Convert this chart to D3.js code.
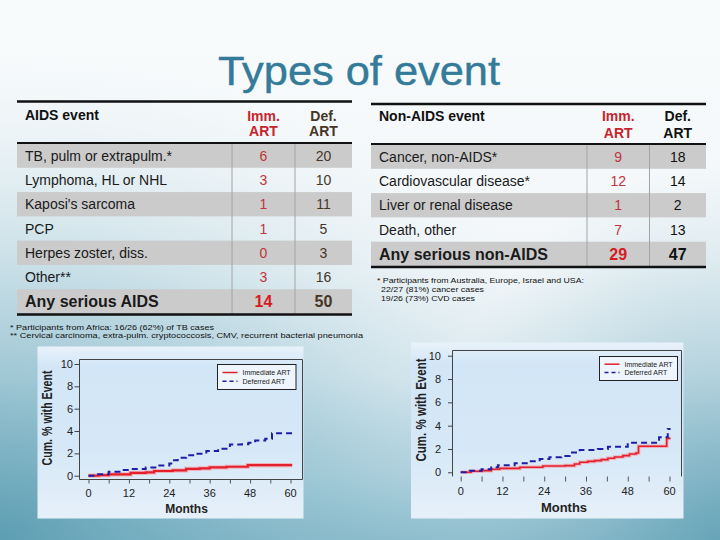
<!DOCTYPE html>
<html><head><meta charset="utf-8">
<script src="https://cdn.jsdelivr.net/npm/d3@7"></script>
<style>html,body{margin:0;padding:0;background:#f7fafc;}svg{display:block;font-family:"Liberation Sans",Arial,sans-serif;}</style>
</head><body><svg id="c" width="720" height="540"></svg>
<script>
// ---------- data ----------
const title = "Types of event";
const aidsEvents = ["TB, pulm or extrapulm.*","Lymphoma, HL or NHL","Kaposi's sarcoma","PCP","Herpes zoster, diss.","Other**","Any serious AIDS"];
const aidsImm = [6,3,1,1,0,3,14];
const aidsDef = [20,10,11,5,3,16,50];
const nonAidsEvents = ["Cancer, non-AIDS*","Cardiovascular disease*","Liver or renal disease","Death, other","Any serious non-AIDS"];
const nonAidsImm = [9,12,1,7,29];
const nonAidsDef = [18,14,2,13,47];
const aidsNotes = ["* Participants from Africa: 16/26 (62%) of TB cases","** Cervical carcinoma, extra-pulm. cryptococcosis, CMV, recurrent bacterial pneumonia"];
const nonAidsNotes = ["* Participants from Australia, Europe, Israel and USA:","22/27 (81%) cancer cases","19/26 (73%) CVD cases"];
const seriesNames = ["Immediate ART","Deferred ART"];
const xTicks = [0,12,24,36,48,60];
const xMinor = [0,6,12,18,24,30,36,42,48,54,60];
const yTicks = [0,2,4,6,8,10];
// Kaplan-Meier style cumulative % (month, value)
const aidsImmCurve = [[0,0],[3,0.05],[6,0.12],[12.5,0.25],[17,0.3],[19.5,0.42],[25,0.48],[29,0.62],[33,0.66],[36,0.75],[41,0.8],[47.3,0.94],[60.5,0.94]];
const aidsDefCurve = [[0,0],[2.5,0.12],[6,0.36],[10,0.52],[12.5,0.6],[17,0.73],[20.5,0.91],[24,1.09],[25,1.39],[26.5,1.6],[29,1.82],[31.5,1.97],[35,2.21],[38.5,2.42],[42,2.8],[45.5,2.82],[47.5,2.95],[49.5,3.15],[52.5,3.3],[54.5,3.8],[60.5,3.75]];
const nonImmCurve = [[0,0],[3,0.09],[6,0.14],[8.8,0.26],[11.2,0.34],[17,0.43],[23.6,0.54],[30,0.57],[32.7,0.71],[34.2,0.86],[36.5,0.94],[38.5,1.0],[40.4,1.09],[42.3,1.2],[44.2,1.31],[46.6,1.43],[48.5,1.57],[50.4,1.66],[51.1,2.23],[59.2,2.91],[60.3,2.91]];
const nonDefCurve = [[0,0],[2.6,0.14],[6,0.26],[8.8,0.43],[10.7,0.6],[15.5,0.77],[19.3,0.94],[22.7,1.14],[25.5,1.29],[28.9,1.4],[31.3,1.69],[34.2,1.91],[39.4,2.0],[42.3,2.2],[48,2.54],[57,3.0],[59.5,3.71],[60.3,3.71]];

// ---------- drawing ----------
const svg = d3.select("#c");
const defs = svg.append("defs");
function lg(id, stops, vertical=true){
  const g = defs.append("linearGradient").attr("id",id).attr("x1",0).attr("y1",0).attr("x2",vertical?0:1).attr("y2",vertical?1:0);
  stops.forEach(s=>g.append("stop").attr("offset",s[0]).attr("stop-color",s[1]));
}
lg("bg",[[0,"#f8fbfc"],[0.5,"#f3f7f9"],[0.7,"#e3eef3"],[0.88,"#b5d4df"],[1,"#86b9c9"]]);
const rg = defs.append("radialGradient").attr("id","bl").attr("cx",0).attr("cy",1).attr("r",0.9);
rg.append("stop").attr("offset",0).attr("stop-color","#5b9db2").attr("stop-opacity",0.95);
rg.append("stop").attr("offset",0.55).attr("stop-color","#8fbfcf").attr("stop-opacity",0.45);
rg.append("stop").attr("offset",1).attr("stop-color","#cfe3ea").attr("stop-opacity",0);
const rg2 = defs.append("radialGradient").attr("id","br").attr("cx",1).attr("cy",1).attr("r",0.7);
rg2.append("stop").attr("offset",0).attr("stop-color","#5f9fb4").attr("stop-opacity",0.8);
rg2.append("stop").attr("offset",1).attr("stop-color","#9cc6d4").attr("stop-opacity",0);
lg("panel",[[0,"#e8f2fa"],[0.12,"#d2e6f7"],[0.6,"#d6e8f7"],[1,"#e6f0f9"]]);

svg.append("rect").attr("width",720).attr("height",540).attr("fill","url(#bg)");
svg.append("rect").attr("width",720).attr("height",540).attr("fill","url(#bl)");
svg.append("rect").attr("x",300).attr("width",420).attr("height",540).attr("fill","url(#br)");

svg.append("text").attr("x",218).attr("y",85)
  .attr("font-size",41).attr("fill","#347b99").attr("stroke","#347b99").attr("stroke-width",0.45)
  .attr("textLength",282).attr("lengthAdjust","spacingAndGlyphs").text(title);

const RED = "#c8242b", DEFBROWN = "#463626";

function drawTable(o){
  const g = svg.append("g");
  const n = o.labels.length;
  const y = d3.scaleBand().domain(d3.range(n)).range([o.y0, o.y1]).paddingInner(0);
  g.selectAll("rect.row").data(d3.range(n).filter(i=>i%2===0)).join("rect")
    .attr("x",o.x0).attr("width",o.x1-o.x0).attr("y",i=>y(i)).attr("height",y.bandwidth()).attr("fill","#cbcbcb");
  [o.d1,o.d2].forEach(x=>g.append("line").attr("x1",x).attr("x2",x).attr("y1",o.y0).attr("y2",o.y1).attr("stroke","#a4a4a4").attr("stroke-width",1));
  g.append("line").attr("x1",o.x0).attr("x2",o.x1).attr("y1",o.top).attr("y2",o.top).attr("stroke","#111").attr("stroke-width",2.5);
  g.append("line").attr("x1",o.x0).attr("x2",o.x1).attr("y1",o.y0-0.5).attr("y2",o.y0-0.5).attr("stroke","#111").attr("stroke-width",2);
  g.append("line").attr("x1",o.x0).attr("x2",o.x1).attr("y1",o.y1+1).attr("y2",o.y1+1).attr("stroke","#111").attr("stroke-width",2.5);
  g.append("text").attr("x",o.tx).attr("y",o.hy).attr("font-size",14).attr("font-weight","bold").attr("fill","#111").text(o.header);
  const c1=(o.d1+o.d2)/2, c2=(o.d2+o.x1)/2;
  [["Imm.",o.hy+0.5],["ART",o.hy2]].forEach(t=>g.append("text").attr("x",c1).attr("y",t[1]).attr("text-anchor","middle").attr("font-size",14).attr("font-weight","bold").attr("fill",RED).text(t[0]));
  [["Def.",o.hy+0.5],["ART",o.hy2]].forEach(t=>g.append("text").attr("x",c2).attr("y",t[1]).attr("text-anchor","middle").attr("font-size",14).attr("font-weight","bold").attr("fill",o.defColor).text(t[0]));
  o.labels.forEach((lab,i)=>{
    const last = i===n-1;
    const cy = y(i)+y.bandwidth()/2 + (last?6:5);
    g.append("text").attr("x",o.tx).attr("y",cy).attr("font-size",last?16:14).attr("font-weight",last?"bold":"normal").attr("fill","#1a1a1a").text(lab);
    g.append("text").attr("x",c1).attr("y",cy).attr("text-anchor","middle").attr("font-size",last?16:14).attr("font-weight",last?"bold":"normal").attr("fill",last?"#d41c22":"#c0353a").text(o.imm[i]);
    g.append("text").attr("x",c2).attr("y",cy).attr("text-anchor","middle").attr("font-size",last?16:14).attr("font-weight",last?"bold":"normal").attr("fill",o.defColor).text(o.def[i]);
  });
}
drawTable({labels:aidsEvents,imm:aidsImm,def:aidsDef,header:"AIDS event",x0:17,x1:352,d1:232,d2:295,top:101.5,y0:143.5,y1:313.5,tx:25,hy:120,hy2:135.5,defColor:DEFBROWN});
drawTable({labels:nonAidsEvents,imm:nonAidsImm,def:nonAidsDef,header:"Non-AIDS event",x0:371,x1:706,d1:587,d2:649.5,top:104,y0:144.5,y1:266,tx:379,hy:120.5,hy2:137.5,defColor:"#111"});

const fn = svg.append("g").attr("font-size",8).attr("fill","#111");
fn.append("text").attr("x",10).attr("y",329.5).attr("textLength",204).attr("lengthAdjust","spacingAndGlyphs").text(aidsNotes[0]);
fn.append("text").attr("x",10).attr("y",338).attr("textLength",353).attr("lengthAdjust","spacingAndGlyphs").text(aidsNotes[1]);
fn.append("text").attr("x",377).attr("y",283).attr("textLength",207).attr("lengthAdjust","spacingAndGlyphs").text(nonAidsNotes[0]);
fn.append("text").attr("x",381).attr("y",292).attr("textLength",103).attr("lengthAdjust","spacingAndGlyphs").text(nonAidsNotes[1]);
fn.append("text").attr("x",381).attr("y",301).attr("textLength",94).attr("lengthAdjust","spacingAndGlyphs").text(nonAidsNotes[2]);

function drawChart(o){
  const g = svg.append("g");
  g.append("rect").attr("x",o.px0).attr("y",o.py0).attr("width",o.px1-o.px0).attr("height",o.py1-o.py0).attr("fill","url(#panel)");
  const x = d3.scaleLinear().domain([0,60]).range(o.xr);
  const y = d3.scaleLinear().domain([0,10]).range(o.yr);
  const f = o.frame;
  let p = `M${f.r},${f.b}L${f.r},${f.t}L${f.l},${f.t}L${f.l},${f.b}`;
  if(o.bottomLine) p += `L${f.r},${f.b}`;
  g.append("path").attr("d",p).attr("fill","none").attr("stroke","#444").attr("stroke-width",1);
  const ya = g.append("g").attr("transform",`translate(${f.l},0)`).call(d3.axisLeft(y).tickValues(yTicks).tickSize(o.ytick).tickFormat(""));
  ya.select(".domain").remove(); ya.selectAll("line").attr("stroke","#444");
  g.selectAll("text.yl").data(yTicks).join("text").attr("x",o.ylx).attr("y",d=>y(d)+4).attr("text-anchor","end")
    .attr("font-size",o.tfs).attr("fill","#222").text(d=>d);
  const xa = g.append("g").attr("transform",`translate(0,${f.b})`).call(d3.axisBottom(x).tickValues(xMinor).tickSize(o.xtick).tickFormat(""));
  xa.select(".domain").remove(); xa.selectAll("line").attr("stroke","#555");
  g.selectAll("text.xl").data(xTicks).join("text").attr("x",d=>x(d)).attr("y",o.xly).attr("text-anchor","middle")
    .attr("font-size",o.tfs).attr("fill","#222").text(d=>d);
  g.append("text").attr("x",o.mx).attr("y",o.my).attr("text-anchor","middle").attr("font-size",o.mfs).attr("font-weight","bold").attr("fill","#222").text("Months");
  g.append("text").attr("transform",`translate(${o.lx},${o.ly}) rotate(-90)`).attr("text-anchor","middle")
    .attr("font-size",14).attr("font-weight","bold").attr("fill","#222")
    .attr("textLength",o.llen).attr("lengthAdjust","spacingAndGlyphs").text("Cum. % with Event");
  const line = d3.line().x(d=>x(d[0])).y(d=>y(d[1])).curve(d3.curveStepAfter);
  g.append("path").attr("d",line(o.imm)).attr("fill","none").attr("stroke","#f29aa3").attr("stroke-opacity",0.7).attr("stroke-width",o.redW+2);
  g.append("path").attr("d",line(o.imm)).attr("fill","none").attr("stroke","#e3202c").attr("stroke-width",o.redW);
  g.append("path").attr("d",line(o.def)).attr("fill","none").attr("stroke","#1d1fa6").attr("stroke-width",2).attr("stroke-dasharray","6,4");
  const L = o.leg;
  g.append("rect").attr("x",L.x).attr("y",L.y).attr("width",L.w).attr("height",L.h).attr("fill","#eef5fc").attr("stroke","#222").attr("stroke-width",1);
  const ly = [L.y+L.h*0.32, L.y+L.h*0.67];
  g.append("line").attr("x1",L.x+5).attr("x2",L.x+20).attr("y1",ly[0]).attr("y2",ly[0]).attr("stroke","#e3202c").attr("stroke-width",1.5);
  g.append("line").attr("x1",L.x+5).attr("x2",L.x+20).attr("y1",ly[1]).attr("y2",ly[1]).attr("stroke","#1d1fa6").attr("stroke-width",1.5).attr("stroke-dasharray","4,3");
  seriesNames.forEach((s,i)=>g.append("text").attr("x",L.x+25).attr("y",ly[i]+2.5).attr("font-size",7).attr("fill","#222").text(s));
}
drawChart({px0:37.5,px1:303.5,py0:346.5,py1:518.5,xr:[88.5,290.5],yr:[475.7,364],
  frame:{l:79.5,t:359.5,r:302.5,b:479.5},bottomLine:true,ytick:5,xtick:4,ylx:73,xly:497,tfs:11,
  mx:186.5,my:513,mfs:12,lx:52,ly:418,llen:95,imm:aidsImmCurve,def:aidsDefCurve,redW:2.2,
  leg:{x:217.5,y:364.5,w:78.5,h:25}});
drawChart({px0:411,px1:683.5,py0:342.5,py1:518.5,xr:[460.7,669.5],yr:[472.3,355.7],
  frame:{l:452.5,t:350.5,r:681.5,b:476.5},bottomLine:false,ytick:4.5,xtick:5,ylx:441,xly:494.5,tfs:11,
  mx:564,my:512,mfs:13,lx:426,ly:410,llen:103,imm:nonImmCurve,def:nonDefCurve,redW:1.6,
  leg:{x:599.5,y:356.5,w:78,h:24}});
</script></body></html>
